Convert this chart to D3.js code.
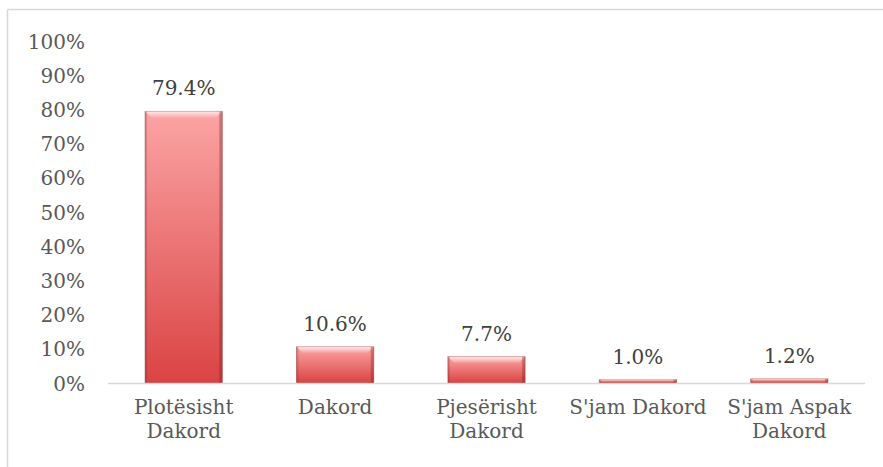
<!DOCTYPE html>
<html>
<head>
<meta charset="utf-8">
<script src="https://cdn.jsdelivr.net/npm/d3@7"></script>
<style>
  body { margin: 0; background: #fff; }
  text { font-family: "DejaVu Serif", "Liberation Serif", serif; fill: #595959; }
</style>
</head>
<body>
<script>
var categories = [["Plotësisht", "Dakord"], ["Dakord"], ["Pjesërisht", "Dakord"], ["S'jam Dakord"], ["S'jam Aspak", "Dakord"]];
var values = [0.794, 0.106, 0.077, 0.010, 0.012];
var ticks = [0, 0.1, 0.2, 0.3, 0.4, 0.5, 0.6, 0.7, 0.8, 0.9, 1.0];

var width = 883, height = 467;

var svg = d3.select("body").append("svg")
    .attr("width", width)
    .attr("height", height);

// chart frame (only top and left edges visible in the crop)
svg.append("line").attr("x1", 7.5).attr("x2", width).attr("y1", 9.5).attr("y2", 9.5)
    .style("stroke", "#d9d9d9").style("stroke-width", 1.5);
svg.append("line").attr("x1", 7.5).attr("x2", 7.5).attr("y1", 9.5).attr("y2", height)
    .style("stroke", "#d9d9d9").style("stroke-width", 1.5);

var defs = svg.append("defs");
var grad = defs.append("linearGradient")
    .attr("id", "barGrad")
    .attr("x1", 0).attr("y1", 0).attr("x2", 0).attr("y2", 1);
grad.append("stop").attr("offset", "0%").attr("stop-color", "#fca4a4");
grad.append("stop").attr("offset", "100%").attr("stop-color", "#da4343");

var topGrad = defs.append("linearGradient")
    .attr("id", "topGrad")
    .attr("x1", 0).attr("y1", 0).attr("x2", 0).attr("y2", 1);
topGrad.append("stop").attr("offset", "0%").attr("stop-color", "#ffffff").attr("stop-opacity", 0.75);
topGrad.append("stop").attr("offset", "100%").attr("stop-color", "#ffffff").attr("stop-opacity", 0);

var x = d3.scaleBand()
    .domain(d3.range(values.length))
    .range([108, 865])
    .paddingInner(0.49)
    .paddingOuter(0.245);

var y = d3.scaleLinear()
    .domain([0, 1])
    .range([383, 41]);

// y axis labels
var yAxis = d3.axisLeft(y)
    .tickValues(ticks)
    .tickFormat(d3.format(".0%"))
    .tickSize(0)
    .tickPadding(0);

var gy = svg.append("g")
    .attr("transform", "translate(85,0)")
    .call(yAxis);
gy.select(".domain").remove();
gy.selectAll("text")
    .attr("dy", "0.35em")
    .style("font-size", "20px")
    .style("fill", "#595959");

// bars
var bars = svg.selectAll(".bar")
    .data(values)
  .enter().append("g")
    .attr("class", "bar");

bars.append("rect")
    .attr("x", function(d, i) { return x(i); })
    .attr("y", function(d) { return y(d); })
    .attr("width", x.bandwidth())
    .attr("height", function(d) { return y(0) - y(d); })
    .style("fill", "url(#barGrad)")
    .style("stroke", "#8c2a2a")
    .style("stroke-opacity", 0.45)
    .style("stroke-width", 1);

// bevel highlight on top edge
bars.append("path")
    .attr("d", function(d, i) {
      var x0 = x(i), x1 = x(i) + x.bandwidth(), y0 = y(d);
      var b = Math.min(7, (y(0) - y(d)) / 2);
      return "M" + x0 + "," + y0 + "L" + x1 + "," + y0 + "L" + (x1 - b) + "," + (y0 + b) + "L" + (x0 + b) + "," + (y0 + b) + "Z";
    })
    .style("fill", "url(#topGrad)");

// darker side edges
bars.append("rect")
    .attr("x", function(d, i) { return x(i) + x.bandwidth() - 3; })
    .attr("y", function(d) { return y(d); })
    .attr("width", 3)
    .attr("height", function(d) { return y(0) - y(d); })
    .style("fill", "#7a1f1f")
    .style("opacity", 0.35);
bars.append("rect")
    .attr("x", function(d, i) { return x(i); })
    .attr("y", function(d) { return y(d); })
    .attr("width", 2)
    .attr("height", function(d) { return y(0) - y(d); })
    .style("fill", "#7a1f1f")
    .style("opacity", 0.2);

// baseline
svg.append("line")
    .attr("x1", 108).attr("x2", 865)
    .attr("y1", y(0) + 0.5).attr("y2", y(0) + 0.5)
    .style("stroke", "#d9d9d9")
    .style("stroke-width", 1.5);

// value labels
svg.selectAll(".val")
    .data(values)
  .enter().append("text")
    .attr("class", "val")
    .attr("x", function(d, i) { return x(i) + x.bandwidth() / 2; })
    .attr("y", function(d) { return y(d) - 16; })
    .attr("text-anchor", "middle")
    .style("font-size", "20px")
    .style("fill", "#404040")
    .text(function(d) { return d3.format(".1%")(d); });

// category labels
var cat = svg.selectAll(".cat")
    .data(categories)
  .enter().append("text")
    .attr("class", "cat")
    .attr("text-anchor", "middle")
    .attr("x", function(d, i) { return x(i) + x.bandwidth() / 2; })
    .attr("y", 414)
    .style("font-size", "20px")
    .style("fill", "#595959");

cat.selectAll("tspan")
    .data(function(d) { return d; })
  .enter().append("tspan")
    .attr("x", function() { return d3.select(this.parentNode).attr("x"); })
    .attr("dy", function(d, i) { return i === 0 ? 0 : 24; })
    .text(function(d) { return d; });
</script>
</body>
</html>
